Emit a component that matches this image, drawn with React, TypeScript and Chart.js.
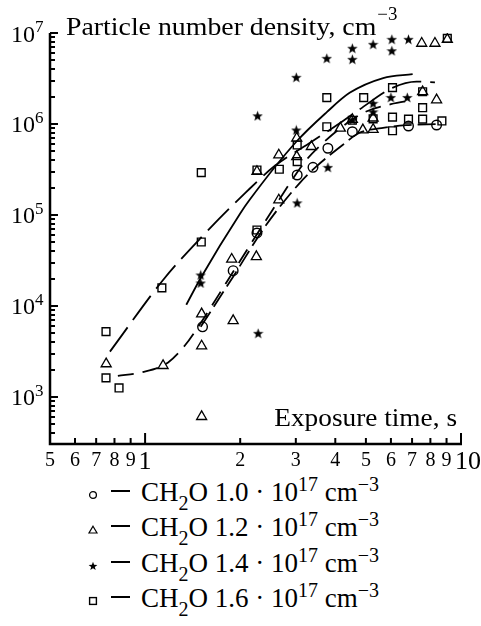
import React, { useEffect, useRef } from "react";
import { Chart, registerables } from "chart.js";

Chart.register(...registerables);

// ---------------- data ----------------
// CH2O 1.0e17 (circles)
const circleX = [1.52, 1.9, 2.26, 3.03, 3.4, 3.79, 4.53, 6.82, 8.37];
const circleY = [5900, 24400, 63400, 275000, 334000, 541000, 822000, 950000, 975000];

// CH2O 1.2e17 (triangles)
const triangleX = [0.753, 1.14, 1.51, 1.51, 1.51, 1.9, 1.88, 2.25, 2.26, 2.65, 2.65, 3.02, 3.02, 3.36, 4.15, 4.53, 4.89, 5.27, 5.27, 7.56, 8.37, 7.51, 8.27, 9.05];
const triangleY = [2310, 2210, 8170, 3630, 608, 6890, 32600, 34800, 300000, 146000, 456000, 437000, 697000, 564000, 900000, 1120000, 860000, 870000, 1160000, 2260000, 1840000, 7700000, 7700000, 8500000];

// CH2O 1.4e17 (stars)
const starX = [1.5, 1.5, 2.28, 2.27, 3.01, 3.01, 3.03, 3.76, 3.79, 4.53, 4.53, 4.53, 5.27, 5.27, 5.27, 6.04, 6.04, 6.0, 6.82, 6.76];
const starY = [21900, 17900, 5010, 1230000, 3260000, 860000, 136000, 5270000, 334000, 6800000, 5140000, 1110000, 7520000, 1690000, 1360000, 8530000, 6390000, 1960000, 8530000, 1960000];

// CH2O 1.6e17 (squares)
const squareX = [0.752, 0.752, 0.827, 1.13, 1.506, 1.506, 2.26, 2.26, 2.66, 3.03, 3.03, 3.76, 3.76, 4.53, 4.92, 5.27, 6.07, 6.07, 6.07, 6.82, 7.56, 7.56, 7.56, 8.7, 9.05];
const squareY = [5220, 1620, 1256, 15800, 50500, 292000, 312000, 68400, 318000, 386000, 588000, 1950000, 933000, 1100000, 1950000, 1140000, 2510000, 1190000, 843000, 1130000, 2260000, 1510000, 1130000, 1080000, 8740000];

// fitted curves
const fitCircleX = [1.5, 1.9, 2.4, 3.08, 3.48, 4.22, 4.77, 5.6, 6.7, 8.4];
const fitCircleY = [5900, 21000, 75000, 223000, 340000, 588000, 800000, 900000, 970000, 1000000];

const fitTriangleX = [0.82, 0.97, 1.18, 1.34, 1.5, 1.83, 2.4, 3.24, 3.6, 4.2, 4.96, 6.0, 7.05];
const fitTriangleY = [1700, 1860, 2380, 3720, 6500, 19300, 85000, 402000, 588000, 930000, 1350000, 1650000, 1830000];

const fitStarX = [1.35, 1.5, 2.0, 2.14, 3.01, 3.76, 4.44, 5.67, 7.03];
const fitStarY = [10300, 20300, 104000, 146000, 638000, 1350000, 2200000, 3200000, 3540000];

const fitSquareX = [0.774, 1.14, 1.51, 2.08, 2.57, 3.3, 4.13, 4.78, 6.09, 7.23, 8.27];
const fitSquareY = [3150, 19300, 57300, 176000, 345000, 610000, 1020000, 1450000, 2510000, 2920000, 2870000];

// axes
const X_MIN = 0.5;
const X_MAX = 10;
const Y_MIN = 304;
const Y_MAX = 1e7;
const xTickValues = [0.5, 0.6, 0.7, 0.8, 0.9, 1, 2, 3, 4, 5, 6, 7, 8, 9, 10];
const xTickLabels = ["5", "6", "7", "8", "9", "1", "2", "3", "4", "5", "6", "7", "8", "9", "10"];
const yDecadeExponents = [3, 4, 5, 6, 7];

const yTitle = "Particle number density, cm";
const yTitleSup = "\u22123";
const xTitle = "Exposure time, s";
const legendConcentrations = ["1.0", "1.2", "1.4", "1.6"];
const legendSymbols = ["circle", "triangle", "star", "square"];

const FONT = '"Liberation Serif", "Times New Roman", serif';

function makeStar(size: number): HTMLCanvasElement {
  const c = document.createElement("canvas");
  c.width = size;
  c.height = size;
  const g = c.getContext("2d")!;
  const cx = size / 2;
  const cy = size / 2 + 0.5;
  const R = size / 2;
  const r = R * 0.42;
  g.beginPath();
  for (let i = 0; i < 10; i++) {
    const ang = -Math.PI / 2 + (i * Math.PI) / 5;
    const rad = i % 2 === 0 ? R : r;
    const px = cx + rad * Math.cos(ang);
    const py = cy + rad * Math.sin(ang);
    if (i === 0) g.moveTo(px, py);
    else g.lineTo(px, py);
  }
  g.closePath();
  g.fillStyle = "#000";
  g.fill();
  return c;
}

function wideText(ctx: CanvasRenderingContext2D, text: string, x: number, y: number, sx: number, align: "left" | "right") {
  ctx.save();
  ctx.translate(x, y);
  ctx.scale(sx, 1);
  ctx.textAlign = align;
  ctx.fillText(text, 0, 0);
  const w = ctx.measureText(text).width * sx;
  ctx.restore();
  return w;
}

const decorPlugin = {
  id: "decor",
  afterDatasetsDraw(chart: any) {
    const { ctx, chartArea: a, scales } = chart;
    const xs = scales.x;
    const ys = scales.y;
    ctx.save();
    ctx.strokeStyle = "#000";
    ctx.fillStyle = "#000";
    // axis lines
    ctx.lineWidth = 2.5;
    ctx.beginPath();
    ctx.moveTo(a.left, a.top);
    ctx.lineTo(a.left, a.bottom);
    ctx.lineTo(a.right + 1, a.bottom);
    ctx.stroke();
    // y ticks (inward)
    ctx.lineWidth = 2;
    for (let d = 2; d <= 7; d++) {
      for (let m = 1; m <= 9; m++) {
        const v = m * Math.pow(10, d);
        if (v < Y_MIN || v > Y_MAX * 1.0001) continue;
        const py = Math.round(ys.getPixelForValue(v));
        const len = m === 1 ? 8 : 5;
        ctx.beginPath();
        ctx.moveTo(a.left, py);
        ctx.lineTo(a.left + len, py);
        ctx.stroke();
      }
    }
    // x ticks (inward)
    xTickValues.forEach((v) => {
      const px = xs.getPixelForValue(v);
      const len = v === 1 || v === 10 ? 11 : 6;
      ctx.beginPath();
      ctx.moveTo(px, a.bottom);
      ctx.lineTo(px, a.bottom - len);
      ctx.stroke();
    });
    // x tick labels
    ctx.textAlign = "center";
    ctx.textBaseline = "alphabetic";
    xTickValues.forEach((v, i) => {
      const big = v === 1 || v === 10;
      ctx.font = `${big ? 26 : 20}px ${FONT}`;
      let px = xs.getPixelForValue(v);
      if (v === 10) px += 7;
      ctx.fillText(xTickLabels[i], px, big ? 469 : 466);
    });
    // y tick labels 10^n
    yDecadeExponents.forEach((e) => {
      const py = ys.getPixelForValue(Math.pow(10, e));
      ctx.textAlign = "right";
      ctx.font = `24px ${FONT}`;
      ctx.fillText("10", 35, py + 8.5);
      ctx.textAlign = "left";
      ctx.font = `17px ${FONT}`;
      ctx.fillText(String(e), 35, py - 1);
    });
    // titles
    ctx.font = `26px ${FONT}`;
    const w = wideText(ctx, yTitle, 66, 35, 1.07, "left");
    ctx.font = `18px ${FONT}`;
    wideText(ctx, yTitleSup, 66 + w + 1, 20, 1.05, "left");
    ctx.font = `26px ${FONT}`;
    wideText(ctx, xTitle, 457, 426, 1.05, "right");
    ctx.restore();
  },
};

function pts(xs: number[], ys: number[]) {
  return xs.map((x, i) => ({ x, y: ys[i] }));
}

function LegendSymbol({ kind }: { kind: string }) {
  const s = 12;
  let shape: React.ReactNode = null;
  if (kind === "circle") shape = <circle cx={6} cy={6} r={3.4} fill="none" stroke="#000" strokeWidth={1.3} />;
  if (kind === "triangle") shape = <polygon points="6,2.2 10,9 2,9" fill="none" stroke="#000" strokeWidth={1.2} />;
  if (kind === "square") shape = <rect x={2.6} y={2.6} width={6.8} height={6.8} fill="none" stroke="#000" strokeWidth={1.4} />;
  if (kind === "star") {
    const p: string[] = [];
    for (let i = 0; i < 10; i++) {
      const ang = -Math.PI / 2 + (i * Math.PI) / 5;
      const rad = i % 2 === 0 ? 4.6 : 1.9;
      p.push(`${6 + rad * Math.cos(ang)},${6.4 + rad * Math.sin(ang)}`);
    }
    shape = <polygon points={p.join(" ")} fill="#000" />;
  }
  return (
    <svg width={s} height={s} viewBox="0 0 12 12" style={{ display: "block" }}>
      {shape}
    </svg>
  );
}

export default function App() {
  const ref = useRef<HTMLCanvasElement>(null);
  useEffect(() => {
    const canvas = ref.current!;
    const star = makeStar(11);
    const pointBase = {
      showLine: false,
      borderColor: "#000",
      backgroundColor: "rgba(0,0,0,0)",
      order: 1,
    };
    const lineBase = {
      showLine: true,
      pointRadius: 0,
      borderColor: "#000",
      borderWidth: 1.8,
      fill: false,
      cubicInterpolationMode: "monotone" as const,
      order: 2,
    };
    const chart = new Chart(canvas, {
      type: "scatter",
      data: {
        datasets: [
          { ...pointBase, label: "CH2O 1.6", data: pts(squareX, squareY), pointStyle: "rect", pointRadius: 5.5, pointBorderWidth: 1.4 },
          { ...pointBase, label: "CH2O 1.0", data: pts(circleX, circleY), pointStyle: "circle", pointRadius: 4.8, pointBorderWidth: 1.4 },
          { ...pointBase, label: "CH2O 1.2", data: pts(triangleX, triangleY), pointStyle: "triangle", pointRadius: 5.8, pointBorderWidth: 1.3 },
          { ...pointBase, label: "CH2O 1.4", data: pts(starX, starY), pointStyle: star as any, pointRadius: 5 },
          { ...lineBase, label: "fit 1.4", data: pts(fitStarX, fitStarY), borderDash: [] },
          { ...lineBase, label: "fit 1.6", data: pts(fitSquareX, fitSquareY), borderDash: [30, 9] },
          { ...lineBase, label: "fit 1.2", data: pts(fitTriangleX, fitTriangleY), borderDash: [16, 9] },
          { ...lineBase, label: "fit 1.0", data: pts(fitCircleX, fitCircleY), borderDash: [18, 6] },
        ] as any,
      },
      options: {
        responsive: false,
        animation: false,
        devicePixelRatio: 1,
        layout: { padding: { left: 50, top: 33, right: 20, bottom: 26 } },
        scales: {
          x: { type: "logarithmic", min: X_MIN, max: X_MAX, display: false },
          y: { type: "logarithmic", min: Y_MIN, max: Y_MAX, display: false },
        },
        plugins: { legend: { display: false }, tooltip: { enabled: false } },
        elements: { line: { tension: 0.4 } },
      },
      plugins: [decorPlugin],
    });
    return () => chart.destroy();
  }, []);

  const legendFont = 27;
  const baseTop = 502;
  const step = 35.4;
  return (
    <div
      style={{
        position: "absolute",
        left: 0,
        top: 0,
        width: 481,
        height: 626,
        background: "#fff",
        fontFamily: FONT,
        color: "#000",
        overflow: "hidden",
      }}
    >
      <canvas ref={ref} width={481} height={470} style={{ position: "absolute", left: 0, top: 0, width: 481, height: 470 }} />
      {legendConcentrations.map((c, i) => {
        const baseline = Math.round(baseTop + step * i);
        const top = Math.round(baseline - 0.8375 * legendFont);
        return (
          <div key={c}>
            <div style={{ position: "absolute", left: 87, top: baseline - 13 }}>
              <LegendSymbol kind={legendSymbols[i]} />
            </div>
            <div
              style={{
                position: "absolute",
                left: 111,
                top: baseline - 12,
                width: 19,
                height: 2,
                background: "#000",
              }}
            />
            <div
              style={{
                position: "absolute",
                left: 141,
                top,
                fontSize: legendFont,
                lineHeight: `${legendFont}px`,
                whiteSpace: "nowrap",
              }}
            >
              CH
              <span style={{ fontSize: 20, position: "relative", top: 9 }}>2</span>O {c} · 10
              <span style={{ fontSize: 20, position: "relative", top: -10 }}>17</span> cm
              <span style={{ fontSize: 20, position: "relative", top: -10 }}>{"\u22123"}</span>
            </div>
          </div>
        );
      })}
    </div>
  );
}
